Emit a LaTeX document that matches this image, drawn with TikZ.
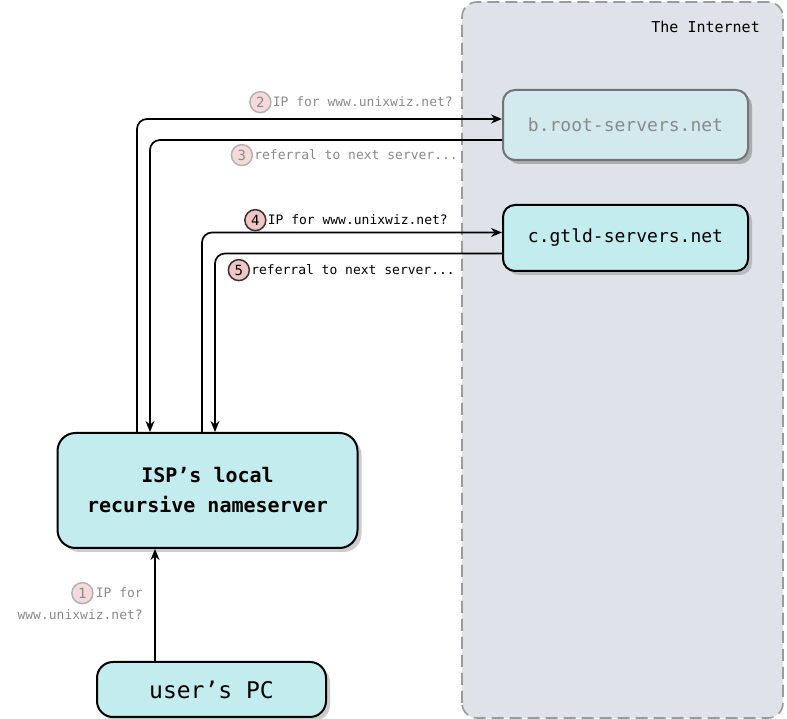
\documentclass[tikz,border=0pt]{standalone}
\usepackage{fontspec}
\setmonofont{DejaVu Sans Mono}
\usepackage{xcolor}
\usetikzlibrary{positioning,arrows.meta,calc,shadows}

\definecolor{netfill}{HTML}{DDE3E9}
\definecolor{netline}{HTML}{9A9A9A}
\definecolor{boxcyan}{HTML}{C2ECEE}
\definecolor{rootcyan}{HTML}{D2EAED}
\definecolor{dimtext}{HTML}{8A8A8A}
\definecolor{dotpink}{HTML}{F6DADA}
\definecolor{dotred}{HTML}{F2C4C4}

\begin{document}
\begin{tikzpicture}[
    x=1pt, y=1pt,
    srvbox/.style={rectangle, rounded corners=12pt, draw, line width=2pt, fill=boxcyan,
        minimum width=245pt, align=center, font=\ttfamily\fontsize{18}{20}\selectfont,
        drop shadow={shadow xshift=4pt, shadow yshift=-4pt, opacity=0.4}},
    arrow/.style={-{Stealth[length=11pt,width=9pt]}, line width=1.7pt, rounded corners=10pt},
    lbl/.style={font=\ttfamily\fontsize{13}{15}\selectfont, inner sep=0pt},
    numdot/.style={circle, draw, line width=1.5pt, minimum size=21pt, inner sep=0pt,
        font=\ttfamily\fontsize{14}{16}\selectfont}
]
\useasboundingbox (0,0) rectangle (787,719);

% The Internet area
\draw[netline, fill=netfill, line width=1.6pt, dash pattern=on 12pt off 6pt, rounded corners=15pt]
    (462,1) rectangle (783,717);
\node[lbl, anchor=base east, font=\ttfamily\fontsize{15}{17}\selectfont] (inet) at (760,686) {The Internet};

% Servers
\node[srvbox, draw=black!55, fill=rootcyan, text=dimtext, minimum height=70pt,
    drop shadow={shadow xshift=4pt, shadow yshift=-4pt, opacity=0.25}] (broot) at (625.5,594) {b.root-servers.net};
\node[srvbox, minimum height=66pt] (gtld) at (625.5,481) {c.gtld-servers.net};

% Local side
\node[srvbox, rounded corners=18pt, minimum width=300pt, minimum height=115pt,
    font=\ttfamily\bfseries\fontsize{20}{30}\selectfont] (isp) at (207.5,228.5) {ISP’s local\\recursive nameserver};
\node[srvbox, rounded corners=16pt, minimum width=229pt, minimum height=55pt,
    font=\ttfamily\fontsize{23}{25}\selectfont] (pc) at (211.5,29.5) {user’s PC};

% Step 1: PC asks the local nameserver
\draw[arrow] ($(pc.north)+(-56.5,0)$) -- ($(isp.south)+(-52.5,0)$);
\node[lbl, text=dimtext, anchor=base east] (t1a) at (143,121) {IP for};
\node[lbl, text=dimtext, anchor=base east] (t1b) at (143,99) {www.unixwiz.net?};
\node[numdot, draw=black!30, fill=dotpink, text=dimtext, left=2pt of t1a] (n1) {1};

% Step 2 and 3: root server
\draw[arrow] ($(isp.north)+(-70.5,0)$) |- ($(broot.west)+(0,6)$);
\draw[arrow] ($(broot.west)+(0,-15)$) -| ($(isp.north)+(-57.5,0)$);
\node[lbl, text=dimtext, anchor=base east] (t2) at (453,612) {IP for www.unixwiz.net?};
\node[numdot, draw=black!30, fill=dotpink, text=dimtext, left=1pt of t2] (n2) {2};
\node[lbl, text=dimtext, anchor=base east] (t3) at (458,559) {referral to next server...};
\node[numdot, draw=black!30, fill=dotpink, text=dimtext, left=1pt of t3] (n3) {3};

% Step 4 and 5: gTLD server
\draw[arrow] ($(isp.north)+(-5.5,0)$) |- ($(gtld.west)+(0,5.5)$);
\draw[arrow] ($(gtld.west)+(0,-15.5)$) -| ($(isp.north)+(7.5,0)$);
\node[lbl, anchor=base east] (t4) at (448,494) {IP for www.unixwiz.net?};
\node[numdot, draw=black!80, fill=dotred, left=1pt of t4] (n4) {4};
\node[lbl, anchor=base east] (t5) at (455,444) {referral to next server...};
\node[numdot, draw=black!80, fill=dotred, left=1pt of t5] (n5) {5};

\end{tikzpicture}
\end{document}
